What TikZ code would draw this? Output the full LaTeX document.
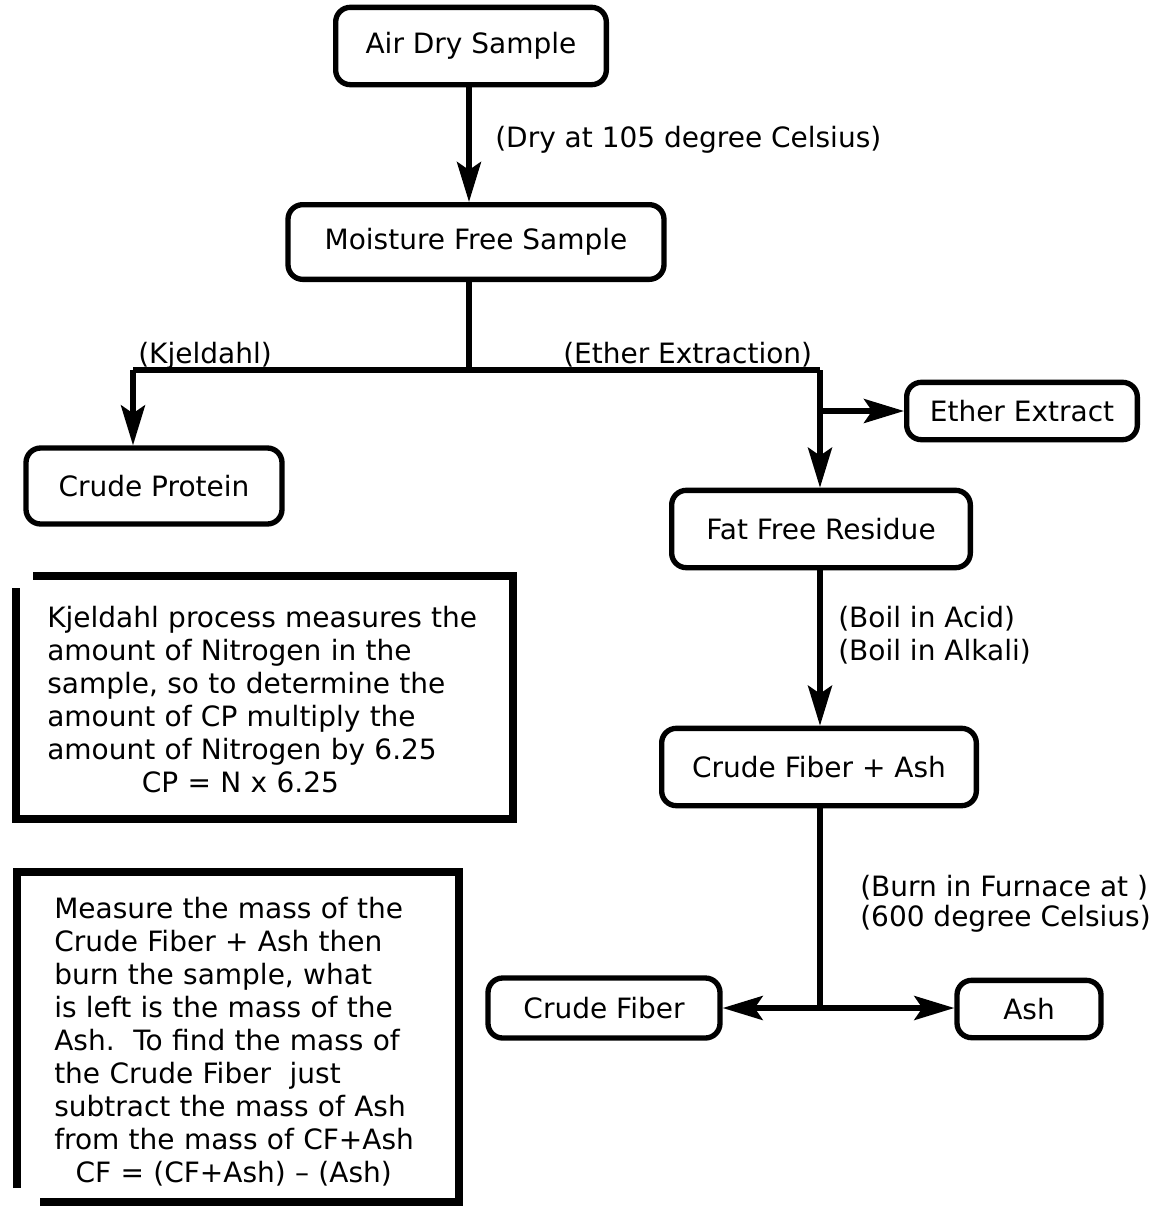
\documentclass[tikz,border=0pt]{standalone}
\usepackage{fontspec}
\setmainfont{DejaVu Sans}
\usetikzlibrary{arrows.meta}
\tikzset{
  flowbox/.style={draw, line width=4pt, rounded corners=11pt, align=center, inner sep=0pt},
  conn/.style={line width=4pt},
  arr/.style={line width=4pt, -{Stealth[length=30pt,width=18pt,inset=6pt]}},
  lbl/.style={anchor=base west, inner sep=0pt},
  notebox/.style={line width=6.5pt, line join=miter},
  notetext/.style={anchor=base west, inner sep=0pt, align=left, text width=600pt}
}
\begin{document}
\begin{tikzpicture}[x=0.75pt,y=-0.75pt,font=\fontsize{21}{24.75}\selectfont]
\useasboundingbox[fill=white] (0,0) rectangle (1166,1208);
% boxes
\node[flowbox, minimum width=203pt, minimum height=58pt] (air) at (471,46) {Air Dry Sample};
\node[flowbox, minimum width=282pt, minimum height=56pt] (moist) at (476,242) {Moisture Free Sample};
\node[flowbox, minimum width=192pt, minimum height=57pt] (cp) at (154,486) {Crude Protein};
\node[flowbox, minimum width=173pt, minimum height=43pt] (ee) at (1022,411) {Ether Extract};
\node[flowbox, minimum width=224pt, minimum height=58pt] (ffr) at (821,529) {Fat Free Residue};
\node[flowbox, minimum width=236pt, minimum height=58pt] (cfa) at (819,767) {Crude Fiber + Ash};
\node[flowbox, minimum width=174pt, minimum height=45pt] (cf) at (604,1008) {Crude Fiber};
\node[flowbox, minimum width=108pt, minimum height=43pt] (ash) at (1029,1009) {Ash};
% junctions
\coordinate (j1) at (469,370);
\coordinate (jl) at (133,370);
\coordinate (jr) at (820,370);
\coordinate (je) at (820,411);
\coordinate (jb) at (820,1008);
% connectors
\draw[arr] (air.south -| j1) -- (j1 |- moist.north);
\draw[conn] (j1 |- moist.south) -- (j1);
\draw[conn] (jl) -- (jr);
\draw[arr] (jl) -- (jl |- cp.north);
\draw[arr] (jr) -- (jr |- ffr.north);
\draw[arr] (je) -- (ee.west);
\draw[arr] (ffr.south -| jr) -- (jr |- cfa.north);
\draw[conn] (cfa.south -| jb) -- (jb);
\draw[arr] (jb) -- (cf.east);
\draw[arr] (jb) -- (ash.west |- jb);
% labels
\node[lbl] (l1) at (495,147) {(Dry at 105 degree Celsius)};
\node[lbl] (l2) at (138,363) {(Kjeldahl)};
\node[lbl] (l3) at (563,363) {(Ether Extraction)};
\node[lbl] (l4) at (838,627) {(Boil in Acid)};
\node[lbl] (l5) at (838,660) {(Boil in Alkali)};
\node[lbl] (l6) at (860,896) {(Burn in Furnace at )};
\node[lbl] (l7) at (860,926) {(600 degree Celsius)};
% note boxes
\draw[notebox] (33,576) -- (513,576) -- (513,819) -- (12,819);
\draw[notebox] (16,588) -- (16,819);
\node[notetext] (n1) at (47,627) {Kjeldahl process measures the\\amount of Nitrogen in the\\sample, so to determine the\\amount of CP multiply the\\amount of Nitrogen by 6.25\\\hspace*{71pt}CP = N x 6.25};
\draw[notebox] (17,1188) -- (17,872) -- (459,872) -- (459,1202) -- (40,1202);
\node[notetext] (n2) at (54,918) {Measure the mass of the\\Crude Fiber + Ash then\\burn the sample, what\\is left is the mass of the\\Ash.\ \ To find the mass of\\the Crude Fiber\ \ just\\subtract the mass of Ash\\from the mass of CF+Ash\\\hspace*{16pt}CF = (CF+Ash) -- (Ash)};
\end{tikzpicture}
\end{document}
